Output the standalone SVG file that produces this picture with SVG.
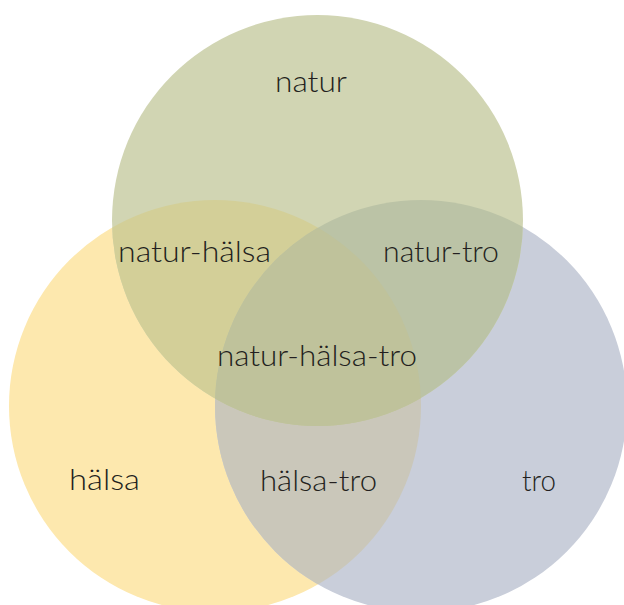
<svg xmlns="http://www.w3.org/2000/svg" width="624" height="605" viewBox="0 0 624 605">
  <style>
    .lbl { font-family: Lato, "DejaVu Sans", "Liberation Sans", sans-serif; font-size: 29px; font-weight: 300; fill: #231f20; text-anchor: middle; }
  </style>
  <defs>
    <clipPath id="clipHalsa"><circle cx="215" cy="406" r="206"/></clipPath>
    <clipPath id="clipTro"><circle cx="421" cy="406" r="206"/></clipPath>
  </defs>
  <rect width="624" height="605" fill="#ffffff"/>

  <!-- base sets -->
  <g id="halsa"><circle cx="215" cy="406" r="206" fill="#fde8ae"/></g>
  <g id="tro"><circle cx="421" cy="406" r="206" fill="#c9ceda"/></g>
  <g id="natur"><circle cx="317.5" cy="220.5" r="205.5" fill="#d1d5b3"/></g>

  <!-- pairwise overlaps -->
  <g id="halsa-tro" clip-path="url(#clipHalsa)"><circle cx="421" cy="406" r="206" fill="#cac7ba"/></g>
  <g id="natur-halsa" clip-path="url(#clipHalsa)"><circle cx="317.5" cy="220.5" r="205.5" fill="#d3cf98"/></g>
  <g id="natur-tro" clip-path="url(#clipTro)"><circle cx="317.5" cy="220.5" r="205.5" fill="#bbc3a6"/></g>

  <!-- triple overlap -->
  <g id="natur-halsa-tro" clip-path="url(#clipTro)">
    <g clip-path="url(#clipHalsa)"><circle cx="317.5" cy="220.5" r="205.5" fill="#bfc29b"/></g>
  </g>

  <!-- labels -->
  <g id="labels">
    <text class="lbl" x="311" y="92" textLength="72" lengthAdjust="spacingAndGlyphs">natur</text>
    <text class="lbl" x="194.5" y="262" textLength="153" lengthAdjust="spacingAndGlyphs">natur-hälsa</text>
    <text class="lbl" x="441" y="262" textLength="116" lengthAdjust="spacingAndGlyphs">natur-tro</text>
    <text class="lbl" x="317" y="366" textLength="200" lengthAdjust="spacingAndGlyphs">natur-hälsa-tro</text>
    <text class="lbl" x="104.5" y="490" textLength="71" lengthAdjust="spacingAndGlyphs">hälsa</text>
    <text class="lbl" x="318.5" y="491" textLength="117" lengthAdjust="spacingAndGlyphs">hälsa-tro</text>
    <text class="lbl" x="539" y="491" textLength="34" lengthAdjust="spacingAndGlyphs">tro</text>
  </g>
</svg>
